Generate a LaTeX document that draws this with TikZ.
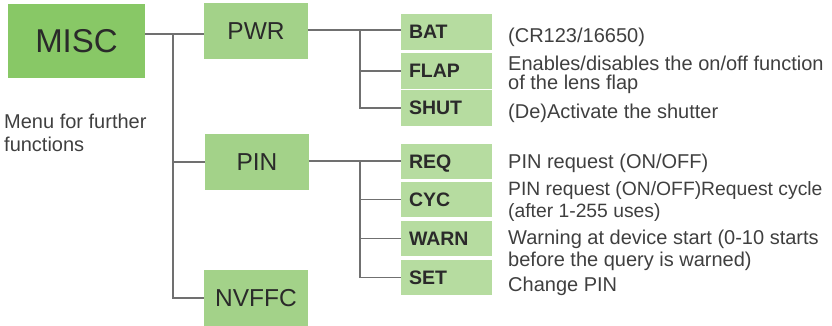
\documentclass[tikz,border=0pt]{standalone}
\usepackage{fontspec}
\setmainfont{Liberation Sans}
\definecolor{miscgreen}{HTML}{88C866}
\definecolor{midgreen}{HTML}{A3D289}
\definecolor{lightgreen}{HTML}{B6DCA0}
\definecolor{linegray}{HTML}{707070}
\definecolor{txt}{HTML}{2A2A2A}
\begin{document}
\begin{tikzpicture}[x=1pt,y=-1pt,
  topbox/.style={fill=miscgreen,draw=none,minimum width=137pt,minimum height=74pt,inner sep=0pt,
    text=txt,font=\fontsize{33}{33}\selectfont,text height=23.6pt,text depth=0pt},
  midbox/.style={fill=midgreen,draw=none,minimum width=104pt,minimum height=56pt,inner sep=0pt,
    text=txt,font=\fontsize{24.5}{24.5}\selectfont,text height=17.5pt,text depth=0pt},
  leafbox/.style={fill=lightgreen,draw=none,minimum height=35.5pt,text width=75pt,inner xsep=8pt,inner ysep=0pt,
    align=left,text=txt,font=\bfseries\fontsize{19.5}{19.5}\selectfont,text height=14pt,text depth=0pt},
  desc/.style={anchor=base west,inner sep=0pt,align=left,text=txt!90!white},
  conn/.style={draw=linegray,line width=1.5pt},
]
\useasboundingbox (0,0) rectangle (832,326);

% main boxes
\node[topbox] (misc) at (76.5,41) {MISC};
\node[midbox] (pwr) at (256,31) {PWR};
\node[midbox] (pin) at (257,162) {PIN};
\node[midbox] (nvffc) at (256,298) {NVFFC};

% leaf boxes
\node[leafbox] (bat)  at (446.5,32)   {BAT};
\node[leafbox] (flap) at (446.5,71)   {FLAP};
\node[leafbox] (shut) at (446.5,108)  {SHUT};
\node[leafbox] (req)  at (446.5,161.5){REQ};
\node[leafbox] (cyc)  at (446.5,199.5){CYC};
\node[leafbox] (warn) at (446.5,238.5){WARN};
\node[leafbox] (set)  at (446.5,277.5){SET};

% descriptions (base anchor = baseline of the last line)
\node[desc,font=\fontsize{20}{23.7}\selectfont] (menu) at (4,151.7) {Menu for further\\functions};
\node[desc,font=\fontsize{20}{19.5}\selectfont] (dbat) at (508,42.7) {(CR123/16650)};
\node[desc,font=\fontsize{20}{19.5}\selectfont] (dflap) at (508,90) {Enables/disables the on/off function\\of the lens flap};
\node[desc,font=\fontsize{20}{19.5}\selectfont] (dshut) at (508,119) {(De)Activate the shutter};
\node[desc,font=\fontsize{20}{22}\selectfont] (dreq) at (508,168) {PIN request (ON/OFF)};
\node[desc,font=\fontsize{19.3}{22}\selectfont] (dcyc) at (508,217.7) {PIN request (ON/OFF)Request cycle\\(after 1-255 uses)};
\node[desc,font=\fontsize{20}{22.5}\selectfont] (dwarn) at (508,266.7) {Warning at device start (0-10 starts\\before the query is warned)};
\node[desc,font=\fontsize{20}{22}\selectfont] (dset) at (508,291.7) {Change PIN};

% connectors level 1
\coordinate (t0) at (173,34);
\draw[conn] (misc.east |- t0) -- (pwr.west |- t0);
\draw[conn] (t0) |- (nvffc.west);
\draw[conn] (t0) |- (pin.west);

% connectors PWR
\coordinate (j1) at (360,30);
\draw[conn] (pwr.east |- j1) -- (bat.west |- j1);
\draw[conn] (j1) |- (shut.west);
\draw[conn] (j1) |- (flap.west);

% connectors PIN
\coordinate (j2) at (360,161);
\draw[conn] (pin.east |- j2) -- (req.west |- j2);
\draw[conn] (j2) |- (set.west);
\draw[conn] (j2) |- (cyc.west);
\draw[conn] (j2) |- (warn.west);
\end{tikzpicture}
\end{document}
